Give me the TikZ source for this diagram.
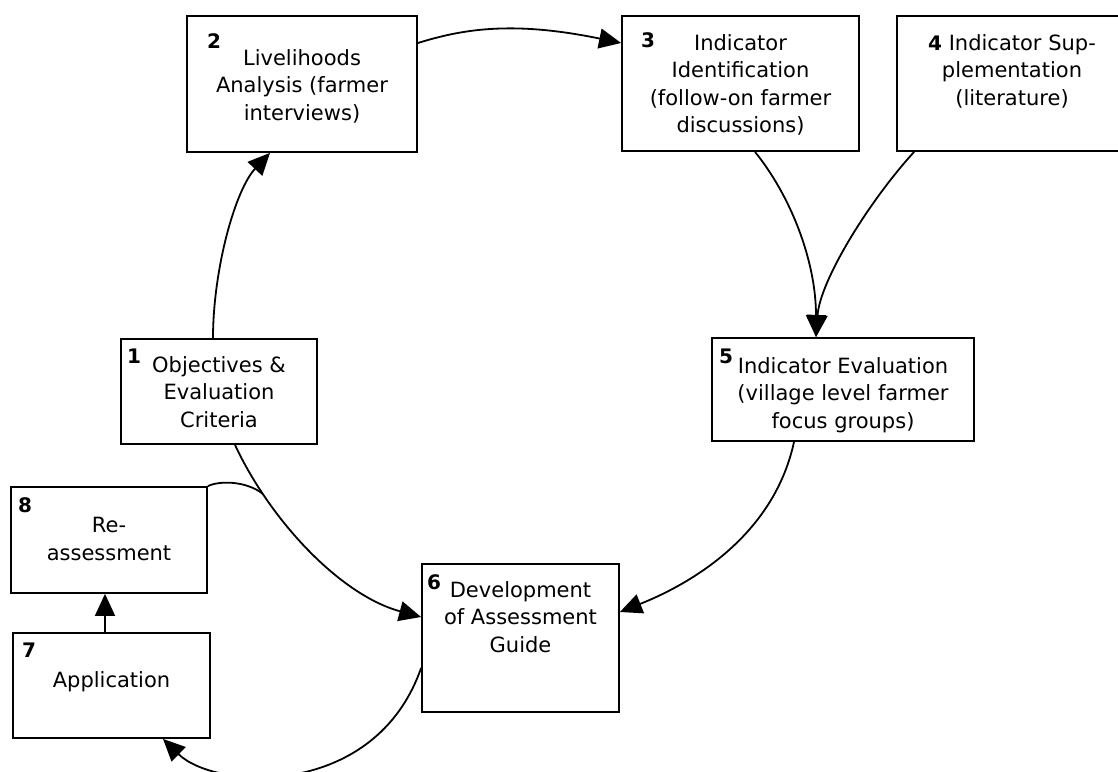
\documentclass[tikz,border=0pt]{standalone}
\usepackage{fontspec}
\setmainfont{DejaVu Sans}
\usetikzlibrary{arrows.meta}

\begin{document}
\begin{tikzpicture}[
    x=1pt, y=-1pt,
    font=\fontsize{21}{27.5}\selectfont,
    box/.style={
        draw=black,
        line width=1.8pt,
        inner sep=0pt
    },
    txt/.style={
        anchor=north,
        align=center,
        inner sep=0pt
    },
    num/.style={
        anchor=base west,
        inner sep=0pt,
        font=\fontsize{20}{22}\selectfont\bfseries
    },
    arr/.style={-{Triangle[length=22pt,width=20pt]}, line width=1.8pt}
]
\useasboundingbox (0,0) rectangle (1118,771);

% boxes
\node[box, minimum width=196, minimum height=105] (b1) at (219,391.5) {};
\node[box, minimum width=230, minimum height=136] (b2) at (302,84) {};
\node[box, minimum width=237, minimum height=135] (b3) at (740.5,83.5) {};
\node[box, minimum width=230, minimum height=135] (b4) at (1012,83.5) {};
\node[box, minimum width=262, minimum height=103] (b5) at (843,389.5) {};
\node[box, minimum width=197, minimum height=148] (b6) at (520.5,638) {};
\node[box, minimum width=197, minimum height=105] (b7) at (111.5,685.5) {};
\node[box, minimum width=196, minimum height=106] (b8) at (109,540) {};

% texts
\node[txt] (t1) at (219,356) {Objectives \&\\Evaluation\\Criteria};
\node[txt] (t2) at (302,49) {Livelihoods\\Analysis (farmer\\interviews)};
\node[txt] (t3) at (740.5,34) {Indicator\\Identification\\(follow-on farmer\\discussions)};
\node[txt] (t4) at (1012,34) {{\fontsize{20}{22}\selectfont\bfseries 4} Indicator Sup-\\plementation\\(literature)};
\node[txt] (t5) at (843,357) {Indicator Evaluation\\(village level farmer\\focus groups)};
\node[txt] (t6) at (520.5,581) {Development\\of Assessment\\Guide};
\node[txt] (t7) at (111.5,671) {Application};
\node[txt] (t8) at (109,517) {Re-\\assessment};

% numbers
\node[num] (n1) at (127,363) {1};
\node[num] (n2) at (207,48) {2};
\node[num] (n3) at (641,47) {3};
\node[num] (n5) at (719,363) {5};
\node[num] (n6) at (427,589) {6};
\node[num] (n7) at (22,657) {7};
\node[num] (n8) at (18,512) {8};

% connectors
\draw[arr] ([xshift=-6]b1.north) .. controls (213,270) and (235,190) .. ([xshift=-32]b2.south);
\draw[arr] ([yshift=41pt]b2.east) .. controls (460,30) and (510,20) .. ([yshift=40.5pt]b3.west);
\draw[arr] ([xshift=14.5]b3.south) .. controls (790,195) and (816,260) .. ([xshift=-27]b5.north);
\draw[arr] ([xshift=18]b4.south west) .. controls (870,200) and (820,280) .. ([xshift=-27]b5.north);
\draw[arr] ([xshift=-49]b5.south) .. controls (775,530) and (700,580) .. ([yshift=26pt]b6.east);
\draw[arr] ([xshift=16]b1.south) .. controls (270,520) and (340,595) .. coordinate[pos=0.22] (m86) ([yshift=21pt]b6.west);
\draw[line width=1.8pt] (b8.north east) .. controls (218,481) and (245,480) .. (m86);
\draw[arr] ([xshift=-6.5]b7.north) -- ([xshift=-4]b8.south);
\draw[arr] ([yshift=-30pt]b6.west) .. controls (375,800) and (215,790) .. ([xshift=51.5]b7.south);

\end{tikzpicture}
\end{document}
